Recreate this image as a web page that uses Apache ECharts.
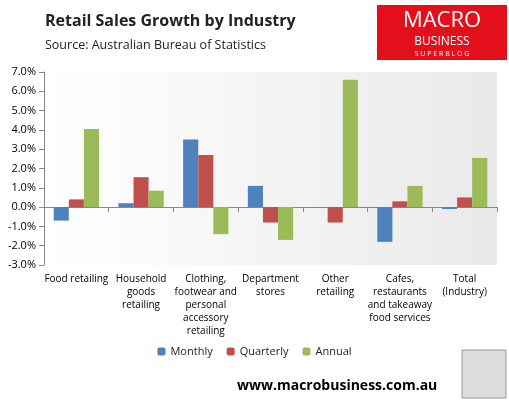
<!DOCTYPE html>
<html>
<head>
<meta charset="utf-8">
<script src="https://cdn.jsdelivr.net/npm/echarts@6/dist/echarts.min.js"></script>
<style>html,body{margin:0;padding:0;background:#fff}#chart{width:509px;height:400px}</style>
</head>
<body>
<div id="chart"></div>
<script>
var categories = ['Food retailing', 'Household\ngoods\nretailing', 'Clothing,\nfootwear and\npersonal\naccessory\nretailing',
    'Department\nstores', 'Other\nretailing', 'Cafes,\nrestaurants\nand takeaway\nfood services', 'Total\n(Industry)'];
var monthly = [-0.7, 0.2, 3.5, 1.1, 0.0, -1.8, -0.1];
var quarterly = [0.4, 1.55, 2.7, -0.8, -0.8, 0.3, 0.5];
var annual = [4.05, 0.85, -1.4, -1.7, 6.6, 1.1, 2.55];

var myChart = echarts.init(document.getElementById('chart'));
var font = 'Open Sans, Liberation Sans, sans-serif';
var option = {
    animation: false,
    textStyle: {fontFamily: font},
    title: [{
        text: 'Retail Sales Growth by Industry',
        left: 40, top: 8,
        textStyle: {fontSize: 16, fontWeight: 'bold', color: '#222'}
    }, {
        text: 'Source: Australian Bureau of Statistics',
        left: 40, top: 34,
        textStyle: {fontSize: 12.5, fontWeight: 'normal', color: '#222'}
    }, {
        text: 'www.macrobusiness.com.au',
        left: 232, top: 374,
        textStyle: {fontSize: 14, fontWeight: 'bold', color: '#000'}
    }],
    graphic: [
        {type: 'rect', shape: {x: 377, y: 5, width: 130, height: 55}, style: {fill: '#e3101b'}},
        {type: 'text', style: {x: 442, y: 10, text: 'MACRO', textAlign: 'center', fill: '#fff', font: '22px ' + font}},
        {type: 'text', style: {x: 442, y: 36, text: 'BUSINESS', textAlign: 'center', fill: '#fff', font: '12px ' + font}},
        {type: 'text', style: {x: 442, y: 50, text: 'S U P E R B L O G', textAlign: 'center', fill: '#fff', font: '7px ' + font}},
        {type: 'rect', shape: {x: 462, y: 350, width: 44, height: 48}, style: {fill: '#ddd', stroke: '#999'}}
    ],
    legend: {
        bottom: 38, left: 'center',
        itemWidth: 8, itemHeight: 8, itemGap: 14,
        textStyle: {fontSize: 11, color: '#222'},
        data: ['Monthly', 'Quarterly', 'Annual']
    },
    grid: {left: 44, right: 12, top: 72, bottom: 135,
        show: true, borderWidth: 0,
        backgroundColor: {type: 'linear', x: 0, y: 0, x2: 1, y2: 0,
            colorStops: [{offset: 0, color: '#ffffff'}, {offset: 1, color: '#e9e9e9'}]}},
    xAxis: {
        type: 'category', data: categories,
        axisLine: {onZero: true, lineStyle: {color: '#888'}},
        axisTick: {show: true, lineStyle: {color: '#888'}},
        axisLabel: {interval: 0, fontSize: 10, color: '#000', lineHeight: 13, margin: 8},
        position: 'bottom'
    },
    yAxis: {
        type: 'value', min: -3, max: 7, interval: 1,
        axisLine: {show: true, lineStyle: {color: '#888'}},
        axisTick: {show: true, lineStyle: {color: '#888'}},
        splitLine: {show: false},
        axisLabel: {fontSize: 11, color: '#000', formatter: function (v) { return v.toFixed(1) + '%'; }}
    },
    series: [
        {name: 'Monthly', type: 'bar', data: monthly, itemStyle: {color: '#4f81bd'}, barGap: '0%', barCategoryGap: '30%'},
        {name: 'Quarterly', type: 'bar', data: quarterly, itemStyle: {color: '#c0504d'}},
        {name: 'Annual', type: 'bar', data: annual, itemStyle: {color: '#9bbb59'}}
    ]
};
myChart.setOption(option);
</script>
</body>
</html>
